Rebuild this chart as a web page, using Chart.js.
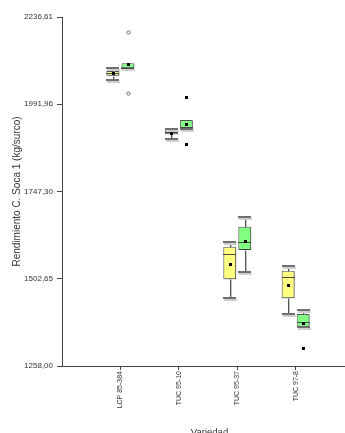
<!DOCTYPE html>
<html>
<head>
<meta charset="utf-8">
<script src="https://cdn.jsdelivr.net/npm/chart.js@4.4.1/dist/chart.umd.min.js"></script>
<style>
  html, body { margin: 0; padding: 0; background: #ffffff; overflow: hidden; }
  #wrap { position: relative; width: 357px; height: 433px; }
</style>
</head>
<body>
<div id="wrap"><canvas id="c"></canvas></div>
<script>
// ---- data ----
const categories = ['LCP 85-384', 'TUC 95-10', 'TUC 95-37', 'TUC 97-8'];
const yTicks = [1258.00, 1502.65, 1747.30, 1991.96, 2236.61];

// series 1 (yellow boxes)
const s1Min    = [2059.9, 1893.7, 1447.8, 1403.8];
const s1Q1     = [2072.0, 1907.7, 1501.1, 1447.8];
const s1Median = [2078.7, 1913.3, 1572.1, 1508.4];
const s1Q3     = [2085.2, 1918.9, 1592.5, 1525.2];
const s1Max    = [2094.4, 1922.6, 1606.5, 1538.4];
const s1Mean   = [2078.5, 1912.2, 1544.0, 1485.1];
const s1Outliers = [[], [], [], []];

// series 2 (green boxes)
const s2Min    = [2092.8, 1921.7, 1520.7, 1368.2];
const s2Q1     = [2092.8, 1921.7, 1583.3, 1368.2];
const s2Median = [2094.0, 1927.3, 1606.5, 1382.2];
const s2Q3     = [2106.8, 1947.8, 1648.6, 1403.8];
const s2Max    = [2106.8, 1947.8, 1675.0, 1415.0];
const s2Mean   = [2104.8, 1937.4, 1608.5, 1377.7];
const s2Outliers = [[2195.4, 2022.7], [2012.3, 1880.5], [], [1307.6]];

// ---- styling / drawing ----
const series = [
  {min: s1Min, q1: s1Q1, med: s1Median, q3: s1Q3, max: s1Max, mean: s1Mean, out: s1Outliers},
  {min: s2Min, q1: s2Q1, med: s2Median, q3: s2Q3, max: s2Max, mean: s2Mean, out: s2Outliers}
];
const outlierMarker = ['circle', 'rect', 'rect', 'rect'];
const FONT = "'Liberation Sans', Arial, sans-serif";

const boxPlugin = {
  id: 'boxparts',
  beforeDatasetsDraw(chart) {
    const ctx = chart.ctx;
    ctx.save();
    ctx.shadowColor = 'rgba(0,0,0,0.28)';
    ctx.shadowOffsetX = 1;
    ctx.shadowOffsetY = 1;
    ctx.shadowBlur = 0;
  },
  afterDatasetsDraw(chart) {
    const ctx = chart.ctx;
    ctx.restore();
    const y = chart.scales.y;
    const px = v => Math.round(y.getPixelForValue(v)) + 0.5;
    series.forEach((s, di) => {
      const meta = chart.getDatasetMeta(di);
      meta.data.forEach((bar, i) => {
        const cx = Math.round(bar.x) + 0.5;
        const hw = bar.width / 2;
        const l = Math.round(bar.x - hw), r = Math.round(bar.x + hw);
        ctx.save();
        // whiskers (with light shadow)
        const segs = [[s.max[i], s.q3[i]], [s.q1[i], s.min[i]]];
        segs.forEach(([a, b]) => {
          if (Math.abs(a - b) < 0.01) return;
          ctx.beginPath();
          ctx.strokeStyle = '#c4c4c4';
          ctx.lineWidth = 1;
          ctx.moveTo(cx + 1, px(a)); ctx.lineTo(cx + 1, px(b));
          ctx.stroke();
          ctx.beginPath();
          ctx.strokeStyle = '#555555';
          ctx.moveTo(cx, px(a)); ctx.lineTo(cx, px(b));
          ctx.stroke();
        });
        // caps (upper cap only when a whisker exists above the box)
        const caps = [s.min[i]];
        if (Math.abs(s.max[i] - s.q3[i]) > 0.01) caps.push(s.max[i]);
        caps.forEach(v => {
          const yy = Math.round(y.getPixelForValue(v));
          ctx.fillStyle = '#cfcfcf';
          ctx.fillRect(l + 1, yy + 1, r - l, 2);
          ctx.fillStyle = '#707070';
          ctx.fillRect(l, yy - 1, r - l, 2);
        });
        // median
        ctx.beginPath();
        ctx.strokeStyle = '#4a4a4a';
        ctx.lineWidth = 1;
        ctx.moveTo(l, px(s.med[i])); ctx.lineTo(r, px(s.med[i]));
        ctx.stroke();
        // mean
        const my = Math.round(y.getPixelForValue(s.mean[i]));
        ctx.fillStyle = '#000000';
        ctx.fillRect(Math.round(bar.x) - 1, my - 1, 3, 3);
        // outliers
        s.out[i].forEach(v => {
          const oy = Math.round(y.getPixelForValue(v));
          const ox = Math.round(bar.x);
          if (outlierMarker[i] === 'circle') {
            ctx.beginPath();
            ctx.strokeStyle = '#666666';
            ctx.lineWidth = 1;
            ctx.arc(ox + 0.5, oy + 0.5, 1.6, 0, Math.PI * 2);
            ctx.stroke();
          } else {
            ctx.fillStyle = '#000000';
            ctx.fillRect(ox - 1, oy - 1, 3, 3);
          }
        });
        ctx.restore();
      });
    });
  }
};

new Chart(document.getElementById('c'), {
  type: 'bar',
  data: {
    datasets: [
      {
        label: 'Serie 1',
        data: categories.map((c, i) => ({x: i + 1, y: [s1Q1[i], s1Q3[i]]})),
        backgroundColor: '#ffff80',
        borderColor: '#555555',
        borderWidth: 1,
        borderSkipped: false
      },
      {
        label: 'Serie 2',
        data: categories.map((c, i) => ({x: i + 1, y: [s2Q1[i], s2Q3[i]]})),
        backgroundColor: '#80ff80',
        borderColor: '#555555',
        borderWidth: 1,
        borderSkipped: false
      }
    ]
  },
  options: {
    responsive: true,
    maintainAspectRatio: false,
    animation: false,
    categoryPercentage: 0.514,
    barPercentage: 0.86,
    layout: { padding: { left: 0, top: 17, right: 0, bottom: 0 } },
    plugins: { legend: { display: false }, tooltip: { enabled: false } },
    scales: {
      x: {
        type: 'linear',
        offset: false,
        min: 0,
        max: 5.05,
        afterBuildTicks: sc => { sc.ticks = categories.map((c, i) => ({value: i + 1})); },
        afterFit: sc => { sc.height = 67; },
        grid: { display: true, offset: false, drawOnChartArea: false, drawTicks: true, tickLength: 4, color: '#444444' },
        border: { display: true, color: '#444444', width: 1 },
        ticks: {
          autoSkip: false,
          minRotation: 90,
          maxRotation: 90,
          padding: 1,
          color: '#333333',
          font: { family: FONT, size: 7 },
          callback: v => categories[v - 1] || ''
        },
        title: {
          display: true,
          text: 'Variedad',
          color: '#333333',
          font: { family: FONT, size: 9.5 },
          padding: { top: 0, bottom: -5 }
        }
      },
      y: {
        min: yTicks[0],
        max: yTicks[yTicks.length - 1],
        afterBuildTicks: sc => { sc.ticks = yTicks.map(v => ({value: v})); },
        afterFit: sc => { sc.width = 62; },
        grid: { display: true, drawOnChartArea: false, drawTicks: true, tickLength: 5, color: '#444444' },
        border: { display: true, color: '#444444', width: 1 },
        ticks: {
          padding: 4,
          color: '#333333',
          font: { family: FONT, size: 8 },
          callback: v => Number(v).toFixed(2).replace('.', ',')
        },
        title: {
          display: true,
          text: 'Rendimiento C. Soca 1 (kg/surco)',
          color: '#333333',
          font: { family: FONT, size: 10 },
          padding: { top: 11, bottom: 0 }
        }
      }
    }
  },
  plugins: [boxPlugin]
});
</script>
</body>
</html>
